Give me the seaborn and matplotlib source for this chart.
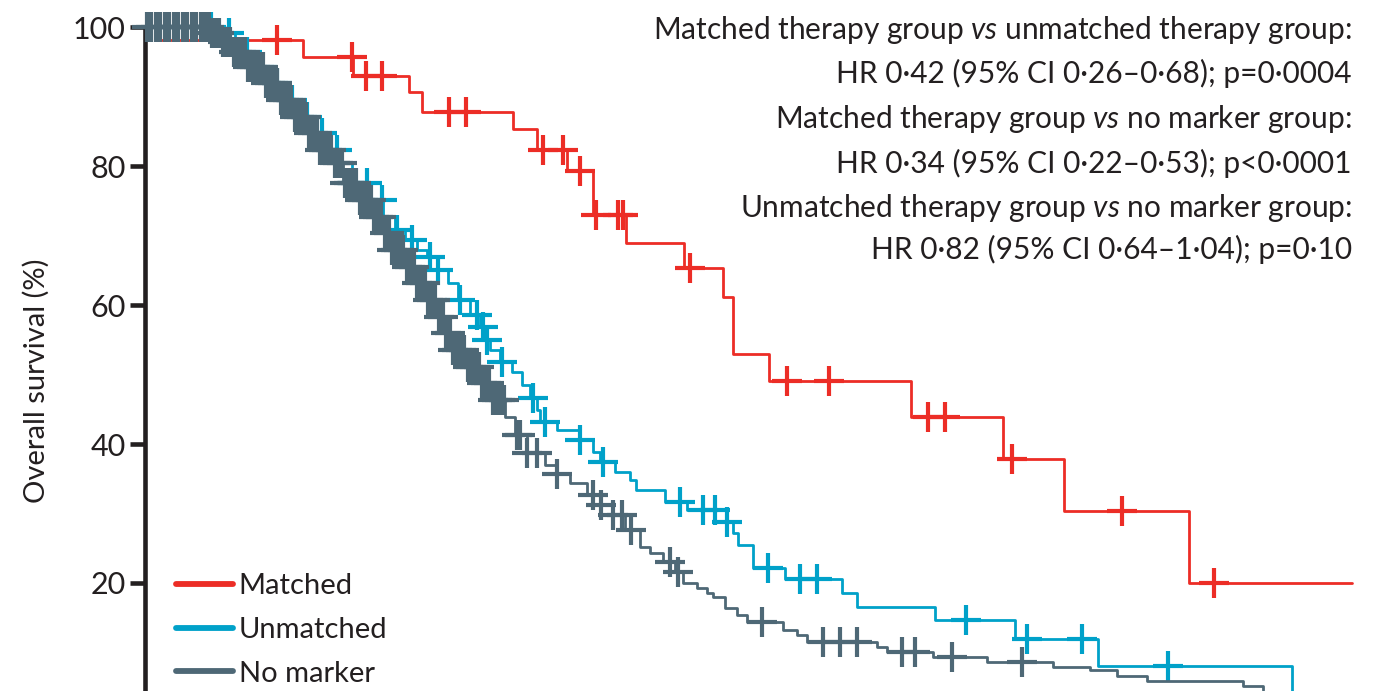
import numpy as np
import pandas as pd
import matplotlib
matplotlib.use("Agg")
import matplotlib.pyplot as plt
from matplotlib.lines import Line2D
import seaborn as sns

# Kaplan-Meier curves: time (months) at which overall survival (%) changes
matched_t = [0, 0.5, 5.27, 6.93, 8.8, 9.23, 12.27, 13.07, 14.07, 14.93, 16.03,
             17.97, 19.27, 19.6, 20.8, 25.53, 28.6, 30.63, 34.8, 40.23]
matched_s = [100, 98.1, 95.7, 93.0, 90.6, 87.8, 85.3, 82.3, 79.3, 73.0, 68.9,
             65.3, 61.2, 53.0, 49.1, 43.9, 37.8, 30.4, 20.0, 20.0]
matched_cens = [4.4, 6.9, 7.37, 7.9, 10.13, 10.7, 13.27, 13.93, 14.5, 15.03,
                15.77, 15.93, 18.17, 21.4, 22.8, 26.1, 26.67, 28.9, 32.57, 35.63]

unmatched_t = [0, 2.67, 3.0, 3.33, 3.77, 4.23, 4.73, 5.17, 5.7, 6.1,
               6.53, 6.9, 7.43, 7.93, 8.33, 8.67, 9.07, 9.4, 9.77, 10.1,
               10.43, 10.83, 11.17, 11.37, 11.5, 11.83, 12.23, 12.57, 12.83, 13.07,
               13.17, 13.73, 14.5, 14.93, 15.17, 15.67, 16.17, 16.37, 17.33, 18.07,
               19.4, 19.6, 19.77, 20.27, 21.33, 23.23, 23.73, 26.33, 29.0, 31.77,
               38.23]
unmatched_s = [100, 99.1, 97.8, 96.4, 94.2, 91.9, 89.5, 87.1, 84.8, 82.3,
               80.4, 77.6, 75.1, 72.7, 70.8, 69.4, 67.9, 66.9, 65.0, 63.2,
               60.7, 58.6, 56.8, 55.0, 53.5, 51.8, 50.4, 48.5, 46.6, 44.9,
               43.2, 42.0, 40.6, 38.8, 37.4, 36.0, 34.8, 33.4, 31.7, 30.5,
               28.8, 27.2, 25.5, 22.2, 20.6, 18.6, 16.5, 14.7, 11.9, 8.1,
               0]
unmatched_cens = [1.0, 1.6, 2.2, 2.8, 3.4, 3.9, 4.4, 4.9, 5.4, 5.9, 6.4, 6.9,
                  7.4, 7.9, 8.4, 8.9, 9.5, 9.77, 10.5, 11.07, 11.27, 11.4, 11.9,
                  12.93, 13.33, 14.5, 15.27, 17.83, 18.6, 19.0, 19.4, 20.77,
                  21.83, 22.4, 27.37, 29.4, 31.23, 34.1]

nomarker_t = [0, 2.23, 2.57, 2.9, 3.4, 3.93, 4.43, 4.9, 5.43, 5.83,
              6.27, 6.6, 7.1, 7.57, 7.9, 8.23, 8.67, 9.07, 9.4, 9.73,
              10.0, 10.23, 10.67, 11.17, 11.57, 12.0, 12.33, 12.73, 13.33, 13.73,
              14.17, 14.73, 15.17, 15.6, 16.0, 16.5, 16.83, 17.27, 17.67, 17.93,
              18.4, 18.73, 18.93, 19.33, 19.73, 20.07, 21.27, 21.73, 22.07, 24.4,
              24.73, 26.27, 28.07, 30.27, 31.5, 32.4, 33.4, 36.6, 37.27]
nomarker_s = [100, 99.1, 97.8, 96.4, 94.2, 91.9, 89.5, 87.1, 84.8, 82.3,
              80.4, 77.6, 75.1, 72.7, 70.4, 67.9, 65.5, 63.2, 60.7, 58.3,
              56.0, 53.5, 51.1, 48.8, 46.3, 43.9, 41.3, 38.7, 37.0, 35.7,
              34.4, 32.7, 31.2, 29.8, 27.6, 25.2, 24.3, 23.0, 21.6, 20.0,
              19.3, 18.6, 18.0, 16.4, 15.4, 14.4, 13.2, 12.5, 11.5, 10.8,
              10.1, 9.4, 8.6, 7.9, 7.5, 6.6, 5.9, 5.2, 4.6]
nomarker_cens = [0.05, 0.2, 0.35, 0.5, 0.65, 0.8, 0.95, 1.1, 1.25, 1.4, 1.55,
                 1.7, 1.85, 2.0, 2.12, 2.24, 2.36, 2.48, 2.6, 2.72, 2.84, 2.96,
                 3.08, 3.2, 3.32, 3.44, 3.56, 3.68, 3.8, 3.92, 4.04, 4.16, 4.28,
                 4.4, 4.52, 4.64, 4.76, 4.88, 5.0, 5.12, 5.24, 5.36, 5.48, 5.6,
                 5.72, 5.84, 5.96, 6.08, 6.2, 6.32, 6.44, 6.56, 6.68, 6.8, 6.92,
                 7.04, 7.16, 7.28, 7.4, 7.52, 7.64, 7.76, 7.88, 8.0, 8.12, 8.24,
                 8.36, 8.48, 8.6, 8.72, 8.84, 8.96, 9.08, 9.2, 9.32, 9.44, 9.56,
                 9.68, 9.8, 9.92, 10.04, 10.16, 10.28, 10.4, 10.52, 10.64, 10.76,
                 10.88, 11.0, 11.12, 11.24, 11.36, 11.48, 11.6, 11.72, 11.84,
                 11.96, 12.4, 12.5, 12.73, 13.07, 13.73, 14.93, 15.2, 15.6, 15.9,
                 16.2, 17.5, 17.75, 20.57, 22.6, 23.17, 23.73, 25.23, 25.67,
                 26.9, 29.23]

groups = ["Matched", "Unmatched", "No marker"]
colors = {"Matched": "#ec2d26", "Unmatched": "#00a1c9", "No marker": "#4e6876"}

stats_lines = [
    r"Matched therapy group $\mathit{vs}$ unmatched therapy group:",
    "HR 0·42 (95% CI 0·26–0·68); p=0·0004",
    r"Matched therapy group $\mathit{vs}$ no marker group:",
    "HR 0·34 (95% CI 0·22–0·53); p<0·0001",
    r"Unmatched therapy group $\mathit{vs}$ no marker group:",
    "HR 0·82 (95% CI 0·64–1·04); p=0·10",
]
yticks = [20, 40, 60, 80, 100]

sns.set_style("white")
plt.rcParams["font.family"] = ["Lato", "DejaVu Sans"]
plt.rcParams["mathtext.fontset"] = "custom"
plt.rcParams["mathtext.rm"] = "Lato"
plt.rcParams["mathtext.it"] = "Lato:italic"

W, H = 1379, 691
fig = plt.figure(figsize=(W / 100, H / 100), dpi=100)
# axes spans from the y=100 line down below the figure edge (0% sits off-canvas)
ax = fig.add_axes([145 / W, 1 - 722 / H, (W - 145) / W, (722 - 27) / H])
ax.set_xlim(0, (W - 145) / 30)
ax.set_ylim(0, 100)


def survival_at(times, surv, t):
    idx = np.searchsorted(np.asarray(times), np.asarray(t), side="right") - 1
    return np.asarray(surv)[idx]


curves = {
    "Matched": (matched_t, matched_s, matched_cens),
    "Unmatched": (unmatched_t, unmatched_s, unmatched_cens),
    "No marker": (nomarker_t, nomarker_s, nomarker_cens),
}

for z, g in enumerate(groups):
    t, s, c = curves[g]
    col = colors[g]
    sns.lineplot(x=t, y=s, ax=ax, color=col, drawstyle="steps-post",
                 estimator=None, sort=False, lw=2.0, clip_on=False,
                 zorder=3 + z * 2)
    cens = pd.DataFrame({"t": c, "s": survival_at(t, s, c)})
    sns.scatterplot(data=cens, x="t", y="s", ax=ax, marker="+", s=440,
                    color=col, linewidth=3.0, clip_on=False, zorder=4 + z * 2)

for side in ["top", "right", "bottom"]:
    ax.spines[side].set_visible(False)
ax.spines["left"].set_linewidth(3.3)
ax.spines["left"].set_color("#231f20")
ax.xaxis.set_visible(False)
ax.set_yticks(yticks)
ax.set_yticklabels([str(v) for v in yticks])
ax.tick_params(axis="y", direction="out", length=11, width=3.3, pad=3,
               color="#231f20", labelcolor="#231f20", labelsize=22, left=True)
ax.set_ylabel("Overall survival (%)", fontsize=21, color="#231f20")
ax.yaxis.set_label_coords((50 - 145) / (W - 145), (722 - 381) / 695)

handles = [Line2D([], [], color=colors[g], lw=4.2) for g in groups]
ax.legend(handles, groups, loc="upper left", frameon=False, fontsize=21,
          bbox_to_anchor=(176 / W, 1 - 573 / H), bbox_transform=fig.transFigure,
          handlelength=1.95, handletextpad=0.2, labelspacing=0.61,
          borderpad=0, borderaxespad=0, labelcolor="#231f20")

baselines = [39, 83, 128, 173, 217, 259]
for txt, b in zip(stats_lines, baselines):
    fig.text(1352 / W, 1 - b / H, txt, ha="right", va="baseline",
             fontsize=21.5, color="#231f20")

fig.savefig("out.png", dpi=100)
